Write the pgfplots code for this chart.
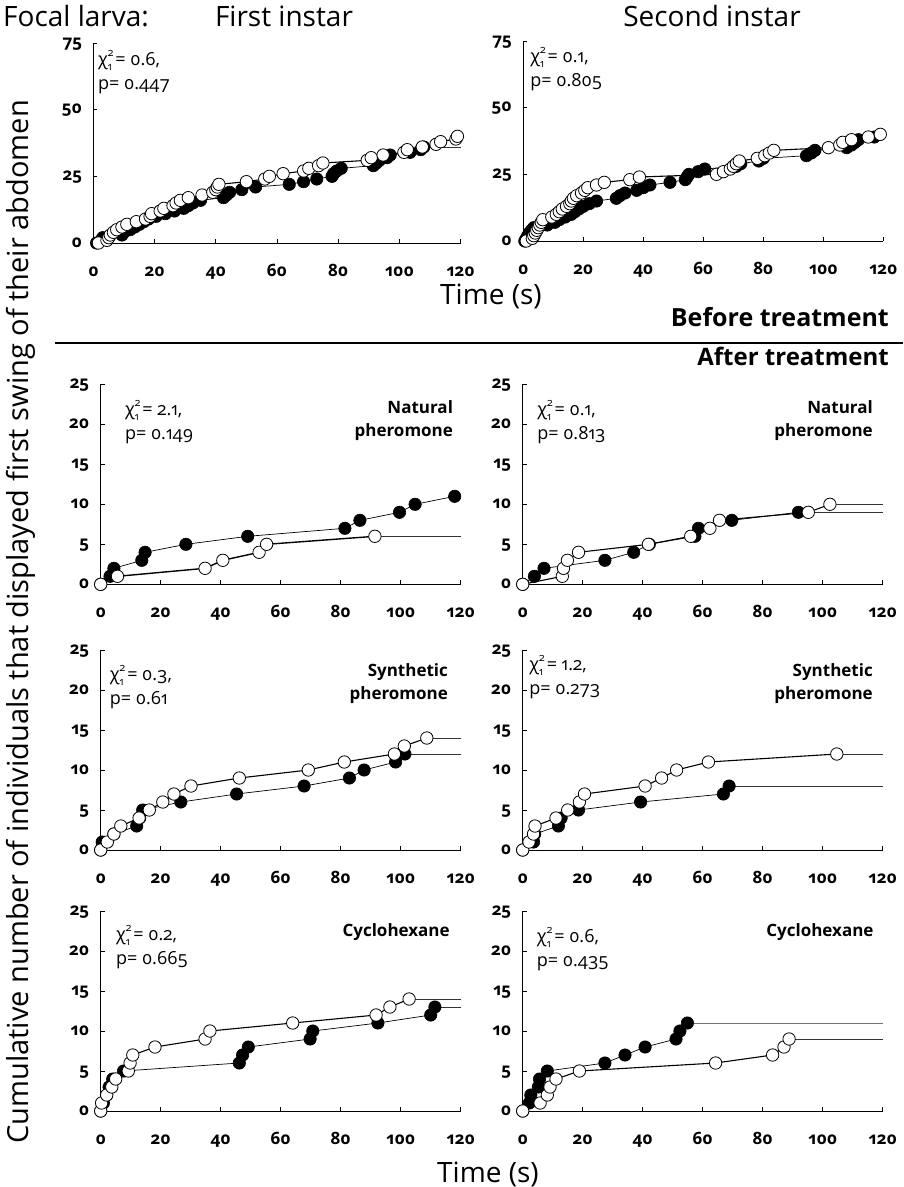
\documentclass[border=0pt]{standalone}
\usepackage{fontspec}
\setmainfont{Open Sans}[Numbers=OldStyle]
\usepackage{pgfplots}
\pgfplotsset{compat=1.18}

\pgfplotsset{
  panel/.style={
    scale only axis, width=360pt, height=200pt,
    xmin=0, xmax=120, ymin=0,
    axis x line=bottom, axis y line=left,
    axis line style={-, line width=0.8pt, black},
    xtick={0,20,...,120},
    clip=false,
    /pgf/number format/assume math mode=true,
    ticklabel style={font=\fontsize{17}{17}\selectfont\bfseries},
    tick align=inside,
    major tick length=4pt,
    tick style={black, line width=0.8pt},
    xticklabel style={anchor=base, yshift=-33pt},
    yticklabel style={anchor=base east, yshift=-4pt, xshift=-8pt},
  },
  blk/.style={black, line width=0.7pt, mark=*, mark size=6.2pt,
    mark options={fill=black, draw=black, line width=0.6pt}},
  wht/.style={black, line width=1.1pt, mark=*, mark size=6.2pt,
    mark options={fill=white, draw=black, line width=0.8pt}},
  tail/.style={black!80, line width=0.9pt, no markers},
}
\newcommand{\chitext}[2]{χ\makebox[0.42em][l]{\rlap{\raisebox{0.5em}{\fontsize{11}{11}\selectfont 2}}\raisebox{-0.28em}{\fontsize{11}{11}\selectfont 1}}= #1,\\p= #2}
\tikzset{
  chi/.style={anchor=north west, align=left, inner sep=0pt, font=\fontsize{18}{24}\selectfont},
  trt/.style={anchor=north east, align=right, inner sep=0pt, font=\fontsize{17}{23}\selectfont\bfseries},
}

\begin{document}
\begin{tikzpicture}
\path[use as bounding box] (0pt,0pt) rectangle (903pt,-1187pt);

% ---------------- Top left: first instar, before treatment
\begin{axis}[panel, at={(93.5pt,-243pt)}, anchor=south west, width=367pt, ymax=75, ytick={0,25,50,75}]
\addplot[tail] coordinates {(108,36) (120,36)};
\addplot[blk] coordinates {(1,0)(2.5,1)(3,2)(9.3,3)(10,4)(12,5)(13.5,6)(15,7)(16.5,8)(18,9)(20.5,10)(23.5,11)(26.5,12)(29.5,13)(31,14)(32.5,15)(35,16)(42.5,17)(43.5,18)(44.5,19)(48.5,20)(53,21)(64,22)(68.7,23)(73,24)(78,25)(78.5,26)(79.5,27)(81,28)(91.5,29)(92.5,30)(93.5,31)(96,32)(97,33)(103.5,34)(107,35)(108,36)};
\addplot[wht] coordinates {(1.6,0)(4.4,1)(5,2)(5.5,3)(6.5,4)(7.6,5)(9.3,6)(10.9,7)(14,8)(17,9)(18.5,10)(19,11)(21.8,12)(23,13)(26,14)(27,15)(28.4,16)(31,17)(35.5,18)(39,19)(40,20)(40.5,21)(41,22)(50,23)(56,24)(57.5,25)(62,26)(68.7,27)(70.4,28)(73.6,29)(75,30)(89.5,31)(90.8,32)(94.7,33)(101.5,34)(102.6,35)(107.5,36)(112,37)(113.5,38)(118.5,39)(119,40)};
\node[chi] at (rel axis cs:0.012,0.965) {\chitext{0.6}{0.447}};
\end{axis}

% ---------------- Top right: second instar, before treatment
\begin{axis}[panel, at={(523.3pt,-241pt)}, anchor=south west, ymax=75, ytick={0,25,50,75}]
\addplot[tail] coordinates {(117,39) (120,39)};
\addplot[blk] coordinates {(0.5,0)(1,1)(1.5,2)(2,3)(2.7,4)(3.5,5)(8,6)(10.5,7)(12,8)(14,9)(16,10)(17.2,11)(18.5,12)(20,13)(22,14)(24.4,15)(31,16)(32.2,17)(33.9,18)(37.8,19)(40,20)(42.2,21)(48.9,22)(54,23)(54.6,24)(55.2,25)(58.3,26)(60.5,27)(71,28)(72.5,29)(78.5,30)(80,31)(94.4,32)(96,33)(97.2,34)(107.8,35)(109.4,36)(110.6,37)(111.7,38)(117,39)};
\addplot[wht] coordinates {(1,0)(3,1)(3.5,2)(4,3)(4.5,4)(5,5)(5.5,6)(6,7)(6.5,8)(9.5,9)(11,10)(12,11)(13,12)(14.4,13)(15.5,14)(16,15)(16.7,16)(17.8,17)(19.4,18)(20.5,19)(21.5,20)(24.4,21)(27,22)(35.5,23)(38.7,24)(64.4,25)(66.7,26)(69,27)(70,28)(71,29)(72,30)(78,31)(80.5,32)(82,33)(83.5,34)(101.7,35)(105.5,36)(106.5,37)(109.4,38)(115,39)(119,40)};
\node[chi] at (rel axis cs:0.019,0.97) {\chitext{0.1}{0.805}};
\end{axis}

% ---------------- Row 1 left: natural pheromone, first instar
\begin{axis}[panel, at={(100.7pt,-584.3pt)}, anchor=south west, ymax=25, ytick={0,5,...,25}]
\addplot[blk] coordinates {(0,0)(3.1,1)(4.4,2)(13.7,3)(14.8,4)(28.4,5)(49,6)(81.4,7)(86.4,8)(99.6,9)(104.8,10)(118,11)};
\addplot[tail, line width=1.4pt] coordinates {(91.4,6) (120,6)};
\addplot[wht, line width=1.4pt] coordinates {(0,0)(5.6,1)(34.8,2)(40.7,3)(52.8,4)(55.3,5)(91.4,6)};
\node[chi] at (rel axis cs:0.067,0.92) {\chitext{2.1}{0.149}};
\node[trt] at (rel axis cs:0.979,0.92) {Natural\\pheromone};
\end{axis}

% ---------------- Row 1 right: natural pheromone, second instar
\begin{axis}[panel, at={(522.7pt,-584.3pt)}, anchor=south west, ymax=25, ytick={0,5,...,25}]
\addplot[tail] coordinates {(91.9,9) (120,9)};
\addplot[blk] coordinates {(0,0)(3.9,1)(7.1,2)(27.4,3)(37,4)(42.2,5)(57.4,6)(58.6,7)(69.7,8)(91.9,9)};
\addplot[tail] coordinates {(102.4,10) (120,10)};
\addplot[wht] coordinates {(0,0)(13.2,1)(13.6,2)(14.9,3)(18.6,4)(41.9,5)(56,6)(62.4,7)(65.6,8)(95.2,9)(102.4,10)};
\node[chi] at (rel axis cs:0.04,0.92) {\chitext{0.1}{0.813}};
\node[trt] at (rel axis cs:0.973,0.92) {Natural\\pheromone};
\end{axis}

% ---------------- Row 2 left: synthetic pheromone, first instar
\begin{axis}[panel, at={(100.7pt,-850pt)}, anchor=south west, ymax=25, ytick={0,5,...,25}]
\addplot[tail] coordinates {(101.4,12) (120,12)};
\addplot[blk] coordinates {(0,0)(0.5,1)(4.4,2)(12,3)(13,4)(14,5)(26.7,6)(45.3,7)(67.8,8)(82.9,9)(87.8,10)(98.3,11)(101.4,12)};
\addplot[tail] coordinates {(108.7,14) (120,14)};
\addplot[wht] coordinates {(0,0)(2.2,1)(4.4,2)(6.7,3)(12.8,4)(16.2,5)(20.7,6)(24.4,7)(30.1,8)(46.2,9)(69.2,10)(81.2,11)(97.9,12)(101.2,13)(108.7,14)};
\node[chi] at (rel axis cs:0.025,0.925) {\chitext{0.3}{0.61}};
\node[trt] at (rel axis cs:0.965,0.935) {Synthetic\\pheromone};
\end{axis}

% ---------------- Row 2 right: synthetic pheromone, second instar
\begin{axis}[panel, at={(522.7pt,-850pt)}, anchor=south west, ymax=25, ytick={0,5,...,25}]
\addplot[tail] coordinates {(68.8,8) (120,8)};
\addplot[blk] coordinates {(0,0)(3.6,1)(4,2)(11.9,3)(12.8,4)(18.6,5)(39.3,6)(66.9,7)(68.8,8)};
\addplot[tail] coordinates {(104.7,12) (120,12)};
\addplot[wht] coordinates {(0,0)(2.1,1)(3.6,2)(4.1,3)(11.1,4)(15,5)(18.9,6)(20.6,7)(40.8,8)(46.3,9)(51.3,10)(61.9,11)(104.7,12)};
\node[chi] at (rel axis cs:0.018,0.975) {\chitext{1.2}{0.273}};
\node[trt] at (rel axis cs:0.973,0.935) {Synthetic\\pheromone};
\end{axis}

% ---------------- Row 3 left: cyclohexane, first instar
\begin{axis}[panel, at={(100.7pt,-1111pt)}, anchor=south west, ymax=25, ytick={0,5,...,25}]
\addplot[tail] coordinates {(111.4,13) (120,13)};
\addplot[blk] coordinates {(0,0)(0.9,1)(2,2)(2.8,3)(4,4)(7.6,5)(46.2,6)(47.3,7)(49.2,8)(69.8,9)(70.7,10)(92.4,11)(110,12)(111.4,13)};
\addplot[tail] coordinates {(102.8,14) (120,14)};
\addplot[wht] coordinates {(0,0)(0.3,1)(2,2)(3.7,3)(5,4)(9.2,5)(9.8,6)(10.7,7)(18.1,8)(34.8,9)(36.4,10)(64,11)(91.8,12)(96.4,13)(102.8,14)};
\node[chi] at (rel axis cs:0.042,0.93) {\chitext{0.2}{0.665}};
\node[trt] at (rel axis cs:0.97,0.94) {Cyclohexane};
\end{axis}

% ---------------- Row 3 right: cyclohexane, second instar
\begin{axis}[panel, at={(522.7pt,-1111pt)}, anchor=south west, ymax=25, ytick={0,5,...,25}]
\addplot[tail, black!55] coordinates {(54.9,11) (120,11)};
\addplot[blk] coordinates {(0,0)(2.2,1)(2.7,2)(5.2,3)(5.6,4)(8.2,5)(27.4,6)(34.1,7)(40.8,8)(51.1,9)(52.4,10)(54.9,11)};
\addplot[tail] coordinates {(88.8,9) (120,9)};
\addplot[wht] coordinates {(0,0)(5.8,1)(8.2,2)(9.1,3)(11.1,4)(18.9,5)(64.3,6)(83.3,7)(87.1,8)(88.8,9)};
\node[chi] at (rel axis cs:0.039,0.92) {\chitext{0.6}{0.435}};
\node[trt] at (rel axis cs:0.975,0.94) {Cyclohexane};
\end{axis}

% ---------------- Outer texts
\begin{scope}[every node/.style={inner sep=0pt, font=\fontsize{28}{28}\selectfont}]
\node[anchor=base west] at (3pt,-26pt) {Focal larva:};
\node[anchor=base] at (284pt,-26pt) {First instar};
\node[anchor=base] at (712pt,-26pt) {Second instar};
\node[anchor=base] at (491pt,-304pt) {Time (s)};
\node[anchor=base] at (488pt,-1182pt) {Time (s)};
\node[anchor=base, rotate=90, font=\fontsize{29}{29}\selectfont] at (28pt,-622pt) {Cumulative number of individuals that displayed first swing of their abdomen};
\node[anchor=base east, font=\fontsize{25}{25}\selectfont\bfseries] at (889pt,-326pt) {Before treatment};
\node[anchor=base east, font=\fontsize{24}{24}\selectfont\bfseries] at (889pt,-365pt) {After treatment};
\end{scope}
\draw[line width=2pt] (55pt,-343pt) -- (903pt,-343pt);
\end{tikzpicture}
\end{document}
